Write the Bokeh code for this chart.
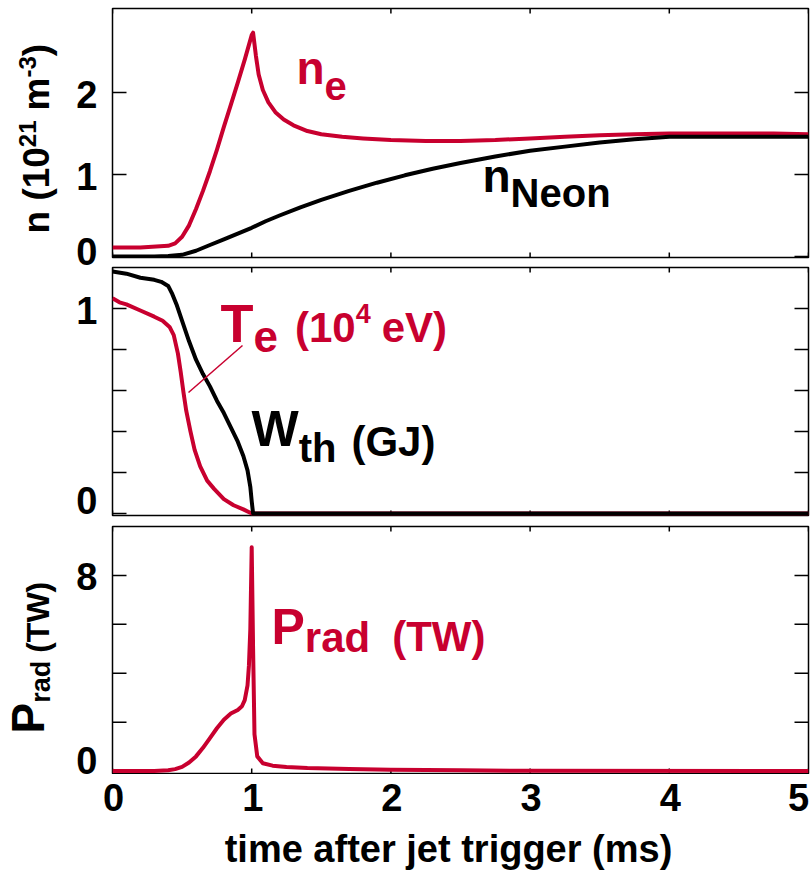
import math
from bokeh.plotting import figure
from bokeh.models import Range1d, Label
from bokeh.layouts import column, row
from bokeh.embed import file_html
from bokeh.resources import INLINE

# ---------------- data ----------------
x_ticks = [0, 1, 2, 3, 4, 5]
x_tick_labels = ["0", "1", "2", "3", "4", "5"]

t_ne = [0, 0.2, 0.4, 0.45, 0.5, 0.55, 0.6, 0.65, 0.7, 0.75, 0.8, 0.85, 0.9, 0.95, 1.0, 1.01,
        1.03, 1.05, 1.08, 1.12, 1.17, 1.23, 1.3, 1.4, 1.5, 1.65, 1.8, 2.0, 2.25, 2.5, 2.75,
        3.0, 3.25, 3.5, 3.75, 4.0, 4.25, 4.5, 4.75, 5.0]
ne = [0.11, 0.11, 0.13, 0.16, 0.24, 0.38, 0.58, 0.80, 1.04, 1.30, 1.58, 1.85, 2.12, 2.40, 2.70, 2.73,
      2.45, 2.22, 2.03, 1.88, 1.76, 1.67, 1.60, 1.53, 1.49, 1.46, 1.44, 1.42, 1.41, 1.41, 1.42,
      1.44, 1.46, 1.48, 1.49, 1.50, 1.50, 1.50, 1.50, 1.49]

t_neon = [0, 0.3, 0.4, 0.5, 0.6, 0.7, 0.8, 0.9, 1.0, 1.1, 1.2, 1.35, 1.5, 1.7, 1.9, 2.1, 2.3,
          2.5, 2.75, 3.0, 3.25, 3.5, 3.75, 4.0, 4.25, 4.5, 5.0]
n_neon = [0.0, 0.0, 0.005, 0.02, 0.07, 0.14, 0.21, 0.28, 0.35, 0.43, 0.50, 0.60, 0.69, 0.80, 0.90,
          0.99, 1.07, 1.14, 1.22, 1.29, 1.34, 1.39, 1.43, 1.46, 1.46, 1.46, 1.46]

t_wth = [0, 0.1, 0.2, 0.3, 0.35, 0.4, 0.43, 0.46, 0.5, 0.55, 0.6, 0.65, 0.7, 0.75, 0.8, 0.85,
         0.9, 0.94, 0.97, 0.99, 1.0, 1.01, 1.05, 5.0]
wth = [1.18, 1.17, 1.15, 1.14, 1.13, 1.11, 1.07, 1.02, 0.94, 0.84, 0.75, 0.68, 0.62, 0.55, 0.49,
       0.42, 0.35, 0.28, 0.21, 0.13, 0.06, 0.0, 0.0, 0.0]

t_te = [0, 0.05, 0.1, 0.2, 0.3, 0.36, 0.41, 0.44, 0.47, 0.49, 0.51, 0.53, 0.56, 0.59, 0.63, 0.68,
        0.73, 0.8, 0.87, 0.94, 1.0, 5.0]
te = [1.05, 1.03, 1.02, 0.99, 0.96, 0.94, 0.91, 0.87, 0.78, 0.69, 0.59, 0.50, 0.40, 0.31, 0.23,
      0.16, 0.12, 0.07, 0.04, 0.02, 0.0, 0.0]

t_prad = [0, 0.3, 0.4, 0.45, 0.5, 0.55, 0.6, 0.65, 0.7, 0.75, 0.8, 0.85, 0.9, 0.93, 0.95, 0.97,
          0.98, 0.99, 1.0, 1.01, 1.02, 1.04, 1.08, 1.15, 1.25, 1.4, 1.7, 2.0, 2.5, 3.0, 5.0]
prad = [0.0, 0.0, 0.03, 0.08, 0.17, 0.35, 0.6, 0.95, 1.35, 1.75, 2.1, 2.35, 2.5, 2.65, 2.9, 3.5,
        4.3, 5.8, 9.15, 5.0, 1.5, 0.6, 0.32, 0.22, 0.17, 0.12, 0.08, 0.05, 0.03, 0.01, 0.0]

y_ticks = [[0, 1, 2], [0, 1], [0, 8]]
y_tick_labels = [["0", "1", "2"], ["0", "1"], ["0", "8"]]
y_minor = [[], [0.2, 0.4, 0.6, 0.8], [2, 4, 6]]

# ---------------- styling / layout ----------------
RED = "#C8002F"
BLACK = "#000000"
FONT = "Liberation Sans"
K = 0.37          # baseline correction (fraction of font size) for Label text
PAGE_W, PAGE_H = 810, 874
STRIP = 100       # left strip (tick labels + rotated titles), full page height
LEFT = 112        # page x of frame left edge
RIGHT = 2
MAIN_W = PAGE_W - STRIP
FW = PAGE_W - LEFT - RIGHT
X0, X1 = 0, 5

# per panel: figure top on page, figure height, frame top border, frame height, y range
panels = [
    dict(ftop=0,   h=262, top=8, fh=249, yr=(-0.0122, 3.0244)),
    dict(ftop=262, h=258, top=5, fh=248, yr=(-0.01, 1.2)),
    dict(ftop=520, h=254, top=6, fh=247, yr=(-0.1, 10.0)),
]
BOT_TOP = 774
BOT_H = PAGE_H - BOT_TOP

ADV = {'n': .611, 'e': .556, 'N': .722, 'o': .611, 'T': .611, '(': .333, ')': .333, '1': .556,
       '0': .556, '4': .556, '2': .556, '3': .556, '-': .333, 'm': .889, 'V': .667, 'W': .944,
       't': .333, 'h': .611, 'G': .778, 'J': .556, 'P': .667, 'r': .389, 'a': .556, 'd': .611,
       ' ': .278}


def text_width(s, size):
    return sum(ADV.get(c, 0.556) for c in s) * size


def upp_y(i):
    pn = panels[i]
    return (pn["yr"][1] - pn["yr"][0]) / pn["fh"]


def yval(i, py):
    pn = panels[i]
    return pn["yr"][1] - (py - (pn["ftop"] + pn["top"])) * upp_y(i)


def xval(px):
    return X0 + (px - LEFT) / FW * (X1 - X0)


UPP_X = (X1 - X0) / FW


def bare(fig):
    for g in fig.grid:
        g.visible = False
    fig.border_fill_color = "white"
    fig.frame_align = False
    return fig


mains = []
for i, pn in enumerate(panels):
    bottom = pn["h"] - pn["top"] - pn["fh"]
    m = bare(figure(width=MAIN_W, height=pn["h"], x_range=Range1d(X0, X1), y_range=Range1d(*pn["yr"]),
                    output_backend="svg", toolbar_location=None, tools="",
                    min_border_left=LEFT - STRIP, min_border_right=RIGHT,
                    min_border_top=pn["top"], min_border_bottom=bottom,
                    x_axis_location=None, y_axis_location=None))
    m.outline_line_color = "black"
    m.outline_line_width = 1.5
    y0, y1 = pn["yr"]
    uy = upp_y(i)
    n = len(x_ticks)
    # x ticks (inward, short) on top and bottom edges
    m.segment(x0=x_ticks, y0=[y1] * n, x1=x_ticks, y1=[y1 - 5 * uy] * n, color="black", line_width=1.5)
    m.segment(x0=x_ticks, y0=[y0] * n, x1=x_ticks, y1=[y0 + 5 * uy] * n, color="black", line_width=1.5)
    # y ticks (inward, long) on left and right edges
    yt = y_ticks[i] + y_minor[i]
    k = len(yt)
    m.segment(x0=[X0] * k, y0=yt, x1=[X0 + 14 * UPP_X] * k, y1=yt, color="black", line_width=1.5)
    m.segment(x0=[X1] * k, y0=yt, x1=[X1 - 14 * UPP_X] * k, y1=yt, color="black", line_width=1.5)
    mains.append(m)

# left strip: page coordinates (y = PAGE_H - page_y) plus one y range per panel
left = bare(figure(width=STRIP, height=PAGE_H, x_range=Range1d(0, STRIP),
                   y_range=Range1d(0, PAGE_H), output_backend="svg", toolbar_location=None, tools="",
                   min_border_left=0, min_border_right=0, min_border_top=0, min_border_bottom=0,
                   x_axis_location=None, y_axis_location=None))
left.outline_line_color = None
left.extra_y_ranges = {f"p{i}": Range1d(yval(i, PAGE_H), yval(i, 0)) for i in range(3)}

# bottom strip (x tick labels and x title), same x scale as the panels
bot = bare(figure(width=MAIN_W, height=BOT_H, x_range=Range1d(xval(STRIP), xval(PAGE_W)),
                  y_range=Range1d(0, BOT_H), output_backend="svg", toolbar_location=None, tools="",
                  min_border_left=0, min_border_right=0, min_border_top=0, min_border_bottom=0,
                  x_axis_location=None, y_axis_location=None))
bot.outline_line_color = None

p1, p2, p3 = mains

# curves
p1.line(t_ne, ne, color=RED, line_width=4, line_join="round")
p1.line(t_neon, n_neon, color=BLACK, line_width=4, line_join="round")
p2.line(t_te, te, color=RED, line_width=4, line_join="round")
p2.line(t_wth, wth, color=BLACK, line_width=4, line_join="round")
p3.line(t_prad, prad, color=RED, line_width=4, line_join="round")


def mk_label(fig, x, y, text, size, color, align="left", angle=0.0, **kw):
    fig.add_layout(Label(x=x, y=y, text=text, text_font=FONT, text_font_size=f"{size}px",
                         text_font_style="bold", text_color=color, text_align=align,
                         text_baseline="alphabetic", angle=angle, **kw))


def compose(target, px, py, pieces, color, rotated=False):
    """target: panel index or 'left'. pieces: (text, size, shift, gap_before);
    shift > 0 moves the baseline down (subscript), < 0 up (superscript)."""
    pos = 0.0
    for text, size, shift, gap in pieces:
        pos += gap
        if rotated:
            qx, qy = px + shift - K * size, py - pos
            ang = math.pi / 2
        else:
            qx, qy = px + pos, py + shift - K * size
            ang = 0.0
        if target == "left":
            mk_label(left, qx, PAGE_H - qy, text, size, color, angle=ang)
        else:
            mk_label(mains[target], xval(qx), yval(target, qy), text, size, color, angle=ang)
        pos += text_width(text, size)


# y tick labels (left strip), placed at the tick values on each panel's own y range
zero_nudge = [-5, -12, -10]   # the "0" labels sit a little above their ticks
for i in range(3):
    uy = upp_y(i)
    for v, lab in zip(y_ticks[i], y_tick_labels[i]):
        nudge = zero_nudge[i] if v == 0 else 2
        base = 0.358 * 38 + nudge - K * 38
        mk_label(left, 97, v - base * uy, lab, 38, BLACK, align="right", y_range_name=f"p{i}")

# y-axis titles (rotated)
compose("left", 50, 233, [("n (10", 37, 0, 0), ("21", 24, -14, 0), ("m", 37, 0, 10),
                          ("-3", 24, -14, 0), (")", 37, 0, 0)], BLACK, rotated=True)
compose("left", 45, 733, [("P", 46, 0, 0), ("rad", 27, 5, 0), ("(TW)", 32, 4, 8)], BLACK,
        rotated=True)

# curve annotations
compose(0, 296, 85, [("n", 46, 0, 0), ("e", 40, 15, 0)], RED)
compose(0, 482, 193, [("n", 46, 0, 0), ("Neon", 40, 14, 0)], BLACK)
compose(1, 220, 342, [("T", 54, 0, 0), ("e", 44, 10, 0), ("(10", 42, 1, 17),
                      ("4", 27, -19, 0), ("eV)", 42, 1, 11)], RED)
compose(1, 251, 447, [("W", 50, 0, 0), ("th", 40, 15, 0), ("(GJ)", 42, 10, 15)], BLACK)
compose(2, 271, 645, [("P", 50, 0, 0), ("rad", 42, 8, 0), ("(TW)", 42, 7, 22)], RED)

# leader line from the T_e label to its curve
p2.line([xval(242), xval(188)], [yval(1, 345), yval(1, 392)], color=RED, line_width=1.5)

# x tick labels and x title (bottom strip); the last label is pulled in from the edge
for v, lab in zip(x_ticks, x_tick_labels):
    dx = -10 if v == X1 else 1
    mk_label(bot, v + dx * UPP_X, (PAGE_H - 811) + K * 38, lab, 38, BLACK, align="center")
mk_label(bot, xval(448), (PAGE_H - 863) + K * 38, "time after jet trigger (ms)", 38, BLACK,
         align="center")

layout = row(left, column(mains[0], mains[1], mains[2], bot))
open("out.html", "w").write(file_html(layout, INLINE))
